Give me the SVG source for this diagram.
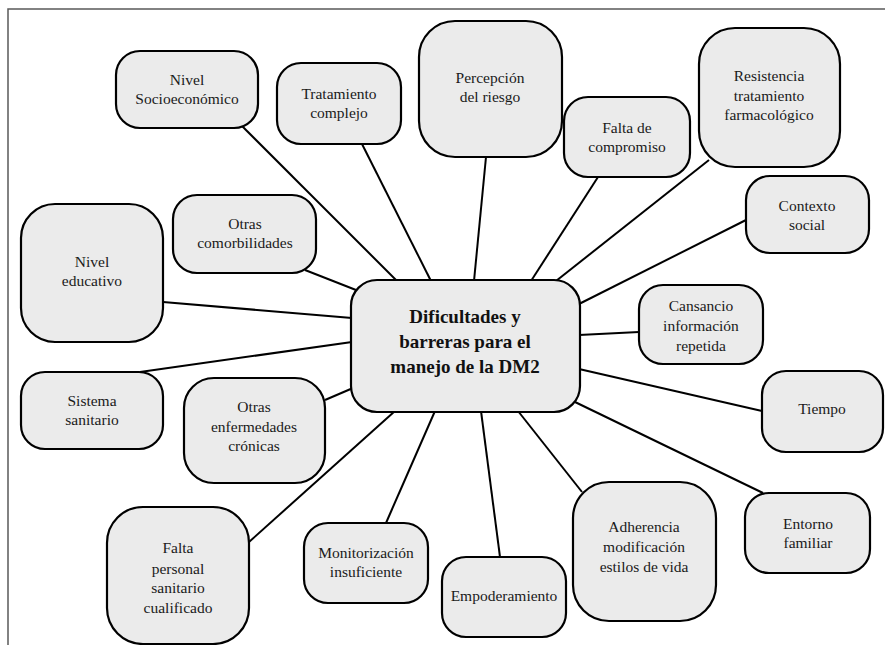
<svg xmlns="http://www.w3.org/2000/svg" width="885" height="645" viewBox="0 0 885 645">
<style>
.frame{fill:none;stroke:#5a5a5a;stroke-width:1.5}
.edge{stroke:#000;stroke-width:2;fill:none}
.box{fill:#ebebeb;stroke:#000;stroke-width:2.2}
.t{font-family:'Liberation Serif','Times New Roman',Times,'DejaVu Serif',serif;font-size:15.5px;fill:#1a1a1a;text-anchor:middle}
.main{font-size:19px;font-weight:bold;fill:#111}
</style>
<rect x="0" y="0" width="885" height="645" fill="#fff"/>
<path class="frame" d="M8,645 V9 H885"/>
<g id="connectors">
<line class="edge" x1="242" y1="126" x2="397" y2="281"/>
<line class="edge" x1="362" y1="144" x2="431" y2="281"/>
<line class="edge" x1="486" y1="157" x2="474" y2="281"/>
<line class="edge" x1="598" y1="177" x2="531" y2="281"/>
<line class="edge" x1="709" y1="160" x2="556" y2="281"/>
<line class="edge" x1="746" y1="220" x2="579" y2="304"/>
<line class="edge" x1="579" y1="335" x2="639" y2="332"/>
<line class="edge" x1="579" y1="369" x2="762" y2="411"/>
<line class="edge" x1="575" y1="402" x2="763" y2="493"/>
<line class="edge" x1="518" y1="411" x2="582" y2="492"/>
<line class="edge" x1="481" y1="411" x2="500" y2="557"/>
<line class="edge" x1="435" y1="411" x2="386" y2="523"/>
<line class="edge" x1="395" y1="411" x2="249" y2="542"/>
<line class="edge" x1="325" y1="400" x2="353" y2="388"/>
<line class="edge" x1="140" y1="372" x2="352" y2="342"/>
<line class="edge" x1="163" y1="302" x2="352" y2="318"/>
<line class="edge" x1="305" y1="270" x2="356" y2="290"/>
</g>
<g id="center">
<rect class="box" x="351" y="280" width="229" height="132" rx="26"/>
<text class="t main" x="465" y="323">Dificultades y</text>
<text class="t main" x="465" y="348">barreras para el</text>
<text class="t main" x="465" y="373">manejo de la DM2</text>
</g>
<g id="nivel-socioeconomico">
<rect class="box" x="116" y="51" width="142" height="77" rx="24"/>
<text class="t" x="187" y="85">Nivel</text>
<text class="t" x="187" y="104">Socioeconómico</text>
</g>
<g id="tratamiento-complejo">
<rect class="box" x="277" y="63" width="124" height="81" rx="24"/>
<text class="t" x="339" y="99">Tratamiento</text>
<text class="t" x="339" y="118">complejo</text>
</g>
<g id="percepcion-riesgo">
<rect class="box" x="419" y="21" width="143" height="136" rx="36"/>
<text class="t" x="490" y="83">Percepción</text>
<text class="t" x="490" y="102">del riesgo</text>
</g>
<g id="falta-compromiso">
<rect class="box" x="564" y="97" width="126" height="80" rx="24"/>
<text class="t" x="627" y="133">Falta de</text>
<text class="t" x="627" y="152">compromiso</text>
</g>
<g id="resistencia">
<rect class="box" x="699" y="28" width="141" height="139" rx="36"/>
<text class="t" x="769" y="81">Resistencia</text>
<text class="t" x="769" y="101">tratamiento</text>
<text class="t" x="769" y="120">farmacológico</text>
</g>
<g id="contexto-social">
<rect class="box" x="746" y="176" width="123" height="77" rx="24"/>
<text class="t" x="807" y="211">Contexto</text>
<text class="t" x="807" y="230">social</text>
</g>
<g id="otras-comorbilidades">
<rect class="box" x="173" y="195" width="143" height="78" rx="24"/>
<text class="t" x="245" y="229">Otras</text>
<text class="t" x="245" y="248">comorbilidades</text>
</g>
<g id="nivel-educativo">
<rect class="box" x="21" y="204" width="142" height="138" rx="34"/>
<text class="t" x="92" y="267">Nivel</text>
<text class="t" x="92" y="286">educativo</text>
</g>
<g id="sistema-sanitario">
<rect class="box" x="21" y="372" width="142" height="77" rx="24"/>
<text class="t" x="92" y="406">Sistema</text>
<text class="t" x="92" y="425">sanitario</text>
</g>
<g id="otras-enfermedades">
<rect class="box" x="184" y="378" width="141" height="105" rx="30"/>
<text class="t" x="254" y="412">Otras</text>
<text class="t" x="254" y="432">enfermedades</text>
<text class="t" x="254" y="451">crónicas</text>
</g>
<g id="cansancio">
<rect class="box" x="639" y="285" width="124" height="79" rx="24"/>
<text class="t" x="701" y="311">Cansancio</text>
<text class="t" x="701" y="331">información</text>
<text class="t" x="701" y="351">repetida</text>
</g>
<g id="tiempo">
<rect class="box" x="762" y="371" width="121" height="81" rx="24"/>
<text class="t" x="822" y="414">Tiempo</text>
</g>
<g id="entorno-familiar">
<rect class="box" x="745" y="493" width="125" height="80" rx="24"/>
<text class="t" x="808" y="529">Entorno</text>
<text class="t" x="808" y="548">familiar</text>
</g>
<g id="adherencia">
<rect class="box" x="573" y="482" width="143" height="139" rx="36"/>
<text class="t" x="644" y="532">Adherencia</text>
<text class="t" x="644" y="552">modificación</text>
<text class="t" x="644" y="572">estilos de vida</text>
</g>
<g id="empoderamiento">
<rect class="box" x="442" y="557" width="124" height="80" rx="24"/>
<text class="t" x="504" y="601">Empoderamiento</text>
</g>
<g id="monitorizacion">
<rect class="box" x="304" y="523" width="124" height="80" rx="24"/>
<text class="t" x="366" y="558">Monitorización</text>
<text class="t" x="366" y="577">insuficiente</text>
</g>
<g id="falta-personal">
<rect class="box" x="107" y="507" width="142" height="137" rx="36"/>
<text class="t" x="178" y="553">Falta</text>
<text class="t" x="178" y="574">personal</text>
<text class="t" x="178" y="593">sanitario</text>
<text class="t" x="178" y="613">cualificado</text>
</g>
</svg>
